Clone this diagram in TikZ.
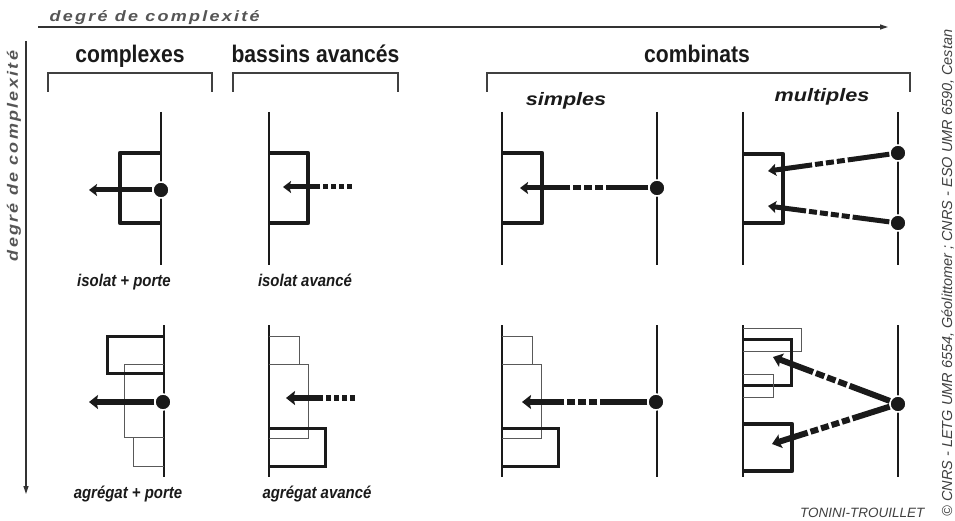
\documentclass[tikz,border=0pt]{standalone}
\usepackage{fontspec}
\setmainfont{Liberation Sans}
\newfontfamily\narrowfont[FakeStretch=0.88]{Liberation Sans}
\newfontfamily\widefont[FakeStretch=1.2,LetterSpace=15]{Liberation Sans}
\newfontfamily\subfont[FakeStretch=1.2]{Liberation Sans}
\usetikzlibrary{arrows.meta}
\definecolor{ink}{HTML}{1A1A1A}
\definecolor{axisgray}{HTML}{555555}
\begin{document}
\begin{tikzpicture}[x=1pt,y=-1pt,
  wall/.style={line width=2pt,draw=ink},
  jetty/.style={line width=4.5pt,draw=ink,line join=round},
  midrect/.style={line width=3pt,draw=ink},
  thinrect/.style={line width=1pt,draw=black!65},
  bracket/.style={line width=1.2pt,draw=black!75},
  dot/.style={circle,fill=ink,draw=white,line width=1.5pt,minimum size=16pt,inner sep=0pt},
  flow/.style={line width=5pt,draw=ink,-{Stealth[length=8pt,width=12pt,inset=1.5pt]}},
  bigflow/.style={line width=6pt,draw=ink,-{Stealth[length=9pt,width=14pt,inset=1.5pt]}},
  axis/.style={line width=1.2pt,draw=black!80,-{Triangle[length=8pt,width=5pt]}},
  head/.style={font=\narrowfont\bfseries\fontsize{24}{28}\selectfont,anchor=base,text=ink},
  subhead/.style={font=\subfont\bfseries\itshape\fontsize{18}{21}\selectfont,anchor=base,text=ink},
  caption/.style={font=\narrowfont\bfseries\itshape\fontsize{17}{20}\selectfont,anchor=base,text=ink},
  axislabel/.style={font=\widefont\bfseries\itshape\fontsize{15}{17}\selectfont,text=axisgray},
  credit/.style={font=\itshape\fontsize{13.5}{15}\selectfont,text=black!75},
  vcredit/.style={font=\itshape\fontsize{14.5}{16}\selectfont,text=black!75},
  patA/.style={dash pattern=on 5pt off 3pt on 5pt off 3pt on 5pt off 3pt on 5pt off 3pt on 400pt},
  patB/.style={dash pattern=on 42pt off 3pt on 8pt off 3pt on 8pt off 3pt on 8pt off 3pt on 400pt},
  patBb/.style={dash pattern=on 47pt off 3pt on 8pt off 3pt on 8pt off 3pt on 8pt off 3pt on 400pt},
  patD/.style={dash pattern=on 37pt off 3pt on 8pt off 3pt on 8pt off 3pt on 8pt off 3pt on 8pt off 3pt on 400pt},
  patE/.style={dash pattern=on 43pt off 3pt on 9pt off 3pt on 9pt off 3pt on 9pt off 3pt on 400pt},
  patF/.style={dash pattern=on 39pt off 3pt on 8pt off 3pt on 8pt off 3pt on 8pt off 3pt on 8pt off 3pt on 400pt},
]
\useasboundingbox (0,0) rectangle (955,521);

% axes
\coordinate (hx0) at (38,27);
\coordinate (hx1) at (888,27);
\draw[axis] (hx0) -- (hx1);
\node[axislabel,anchor=base west] (hxl) at (46,22) {degré de complexité};
\coordinate (vy0) at (26,41);
\coordinate (vy1) at (26,494);
\draw[axis] (vy0) -- (vy1);
\node[axislabel,rotate=90] (vyl) at (14,156) {degré de complexité};

% brackets and headers
\draw[bracket] (48,92) -- (48,73) -- (212,73) -- (212,92);
\draw[bracket] (233,92) -- (233,73) -- (398,73) -- (398,92);
\draw[bracket] (487,92) -- (487,73) -- (910,73) -- (910,92);
\node[head] (h1) at (130,63) {complexes};
\node[head] (h2) at (315.5,63) {bassins avancés};
\node[head] (h3) at (697,63) {combinats};
\node[subhead] (s1) at (566,106) {simples};
\node[subhead] (s2) at (822,102) {multiples};

% ---- top row ----
% isolat + porte
\draw[wall] (160.5,112) -- (160.5,265);
\draw[jetty] (160.5,153) -- (120,153) -- (120,223) -- (160.5,223);
\node[dot] (d1) at (161,190) {};
\coordinate (t1) at (89,190);
\draw[flow] (d1) -- (t1);
% isolat avance
\draw[wall] (269,112) -- (269,265);
\draw[jetty] (269,153) -- (308,153) -- (308,223) -- (269,223);
\coordinate (a2) at (352,187);
\coordinate (t2) at (283,187);
\draw[flow,patA] (a2) -- (t2);
% simples
\draw[wall] (502,112) -- (502,265);
\draw[wall] (657,112) -- (657,265);
\draw[jetty] (502,153) -- (542,153) -- (542,223) -- (502,223);
\node[dot] (d3) at (657,188) {};
\coordinate (t3) at (520,188);
\draw[flow,patB] (d3) -- (t3);
% multiples
\draw[wall] (743,112) -- (743,265);
\draw[wall] (898,112) -- (898,265);
\draw[jetty] (743,154) -- (783,154) -- (783,223) -- (743,223);
\node[dot] (d4a) at (898,153) {};
\node[dot] (d4b) at (898,223) {};
\coordinate (t4a) at (768,171);
\coordinate (t4b) at (768,206);
\draw[flow,patB] (d4a) -- (t4a);
\draw[flow,patD] (d4b) -- (t4b);

\node[caption] (c1) at (124,287) {isolat + porte};
\node[caption] (c2) at (305,287) {isolat avancé};

% ---- bottom row ----
% agregat + porte
\draw[wall] (164,325) -- (164,477);
\draw[thinrect] (164,364) -- (124,364) -- (124,437) -- (164,437);
\draw[thinrect] (133,437) -- (133,466) -- (164,466);
\draw[midrect] (164,336) -- (107,336) -- (107,373) -- (164,373);
\node[dot] (d5) at (163,402) {};
\coordinate (t5) at (89,402);
\draw[bigflow] (d5) -- (t5);
% agregat avance
\draw[wall] (269,325) -- (269,477);
\draw[thinrect] (269,336) -- (299,336) -- (299,364);
\draw[thinrect] (269,364) -- (308,364) -- (308,438) -- (269,438);
\draw[midrect] (269,428) -- (325,428) -- (325,466) -- (269,466);
\coordinate (a6) at (355,398);
\coordinate (t6) at (286,398);
\draw[bigflow,patA] (a6) -- (t6);
% combinat simple (aggregate)
\draw[wall] (502,325) -- (502,477);
\draw[wall] (657,325) -- (657,477);
\draw[thinrect] (502,336) -- (532,336) -- (532,364);
\draw[thinrect] (502,364) -- (541,364) -- (541,438) -- (502,438);
\draw[midrect] (502,428) -- (558,428) -- (558,466) -- (502,466);
\node[dot] (d7) at (656,402) {};
\coordinate (t7) at (522,402);
\draw[bigflow,patBb] (d7) -- (t7);
% combinat multiple (aggregate)
\draw[wall] (743,325) -- (743,477);
\draw[wall] (898,325) -- (898,477);
\draw[thinrect] (743,328) -- (801,328) -- (801,351) -- (743,351);
\draw[midrect] (743,339) -- (791,339) -- (791,385) -- (743,385);
\draw[thinrect] (743,374) -- (773,374) -- (773,397) -- (743,397);
\draw[jetty] (743,424) -- (792,424) -- (792,471) -- (743,471);
\node[dot] (d8) at (898,404) {};
\coordinate (t8a) at (773,357);
\coordinate (t8b) at (772,444);
\draw[bigflow,patE] (d8) -- (t8a);
\draw[bigflow,patF] (d8) -- (t8b);

\node[caption] (c5) at (128,498) {agrégat + porte};
\node[caption] (c6) at (317,498) {agrégat avancé};

% credits
\node[credit,anchor=base east] (cr1) at (928,517) {TONINI-TROUILLET};
\node[vcredit,rotate=90,anchor=base west] (cr2) at (952,520) {© CNRS - LETG UMR 6554, Géolittomer ; CNRS - ESO UMR 6590, Cestan};
\end{tikzpicture}
\end{document}
